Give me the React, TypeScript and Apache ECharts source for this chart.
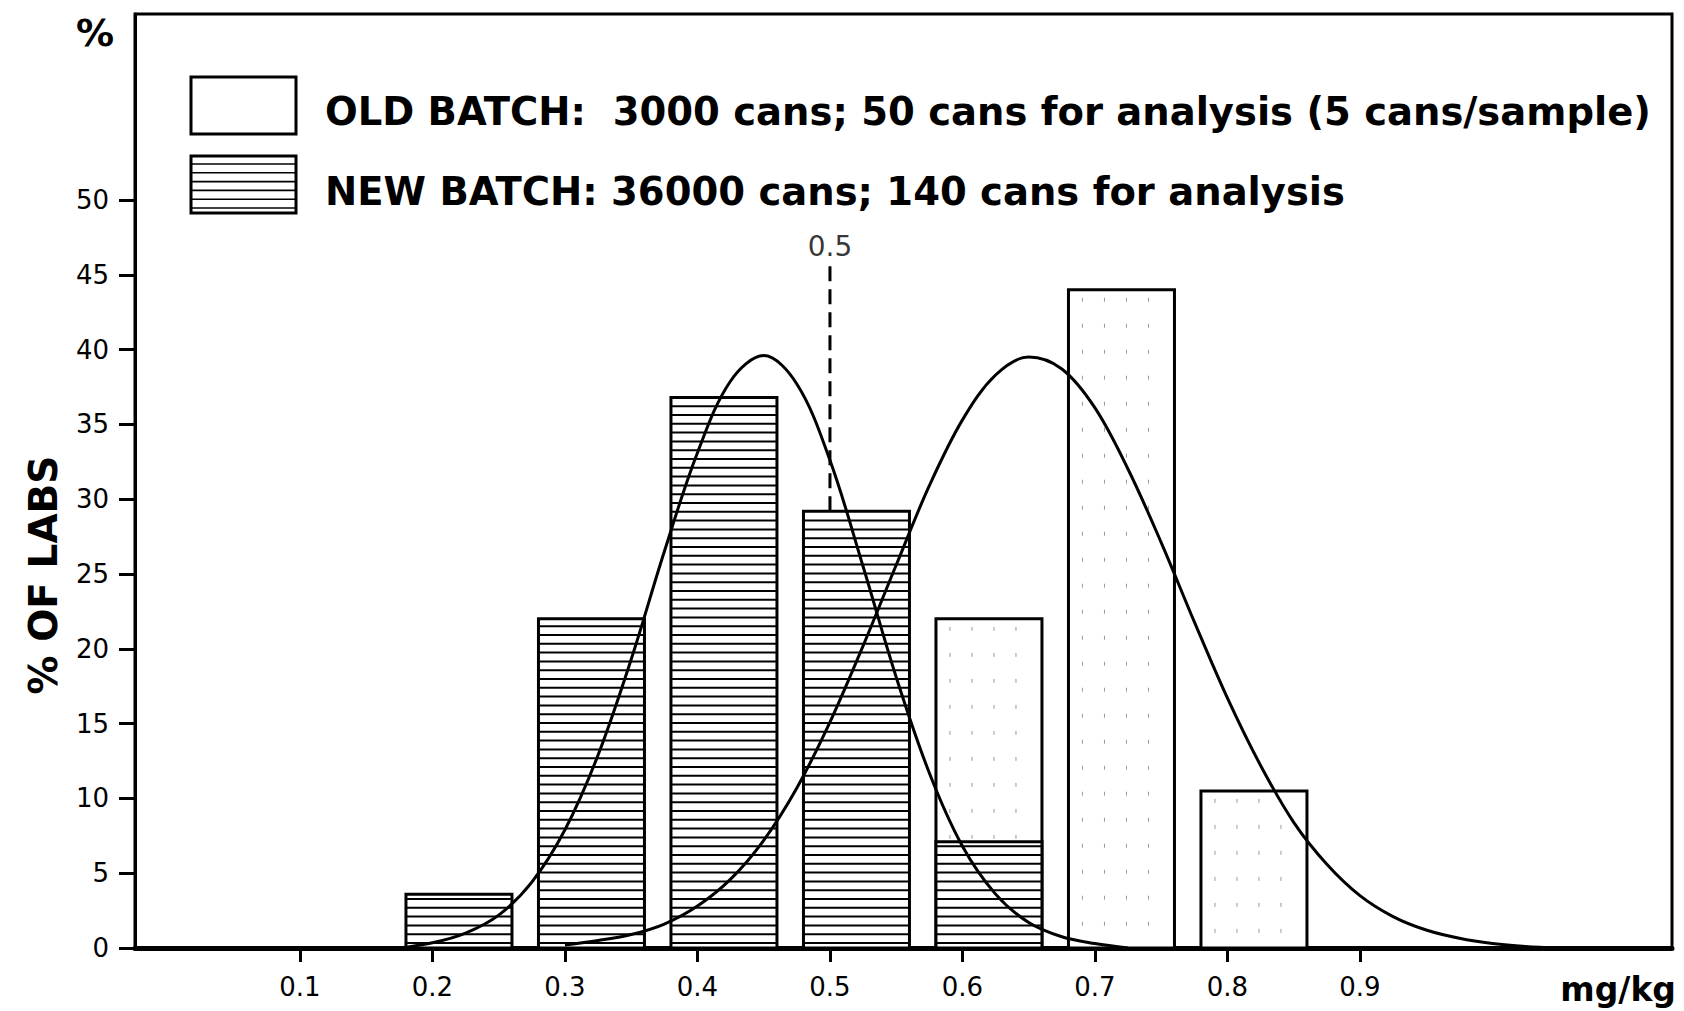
import React, { useEffect, useRef } from "react";
import * as echarts from "echarts";

// ---- data ----
const legendLabels = [
  "OLD BATCH:  3000 cans; 50 cans for analysis (5 cans/sample)",
  "NEW BATCH: 36000 cans; 140 cans for analysis",
];
const binStarts = [0.18, 0.28, 0.38, 0.48, 0.58, 0.68, 0.78];
const binEnds = [0.26, 0.36, 0.46, 0.56, 0.66, 0.76, 0.86];
const oldBatchPct = [0, 0, 0, 0, 22, 44, 10.5];
const newBatchPct = [3.6, 22, 36.8, 29.2, 7.1, 0, 0];

const newCurveX = [0.175, 0.2, 0.225, 0.25, 0.275, 0.3, 0.325, 0.35, 0.375, 0.4, 0.425, 0.45, 0.475, 0.5, 0.525, 0.55, 0.575, 0.6, 0.625, 0.65, 0.675, 0.7, 0.725];
const newCurveY = [0, 0.35, 1.0, 2.2, 4.4, 7.9, 12.9, 19.3, 26.5, 33.1, 37.9, 39.6, 37.7, 32.6, 25.5, 18.1, 11.7, 6.8, 3.6, 1.7, 0.75, 0.3, 0];

const oldCurveX = [0.3, 0.325, 0.35, 0.375, 0.4, 0.425, 0.45, 0.475, 0.5, 0.525, 0.55, 0.575, 0.6, 0.625, 0.65, 0.675, 0.7, 0.725, 0.75, 0.775, 0.8, 0.825, 0.85, 0.875, 0.9, 0.925, 0.95, 0.975, 1.0, 1.025, 1.05];
const oldCurveY = [0.2, 0.5, 0.9, 1.6, 2.8, 4.6, 7.2, 10.7, 15.1, 20.2, 25.6, 30.9, 35.3, 38.3, 39.5, 38.7, 36.1, 32.0, 27.1, 21.8, 16.7, 12.2, 8.4, 5.6, 3.5, 2.1, 1.2, 0.65, 0.3, 0.1, 0];

const xTickValues = [0.1, 0.2, 0.3, 0.4, 0.5, 0.6, 0.7, 0.8, 0.9];
const yTickValues = [0, 5, 10, 15, 20, 25, 30, 35, 40, 45, 50];

const refLineX = [0.5, 0.5];
const refLineY = [29.2, 45.8];
const refLabel = "0.5";

const yAxisTitle = "% OF LABS";
const yUnit = "%";
const xUnit = "mg/kg";

const FONT = '"DejaVu Sans", "Liberation Sans", Arial, sans-serif';

function barRenderer(kind: "old" | "new") {
  return (params: any, api: any) => {
    const x0 = api.value(0);
    const x1 = api.value(1);
    const v = api.value(2);
    const tl = api.coord([x0, v]);
    const br = api.coord([x1, 0]);
    const x = tl[0];
    const y = tl[1];
    const w = br[0] - tl[0];
    const h = br[1] - tl[1];
    const children: any[] = [
      { type: "rect", shape: { x, y, width: w, height: h }, style: { fill: "#fff" } },
    ];
    if (kind === "new") {
      for (let yy = br[1] - 5; yy > y + 3; yy -= 8.8) {
        children.push({
          type: "line",
          shape: { x1: x, y1: yy, x2: x + w, y2: yy },
          style: { stroke: "#000", lineWidth: 2 },
        });
      }
    } else {
      for (let xx = x + 14; xx < x + w - 6; xx += 22) {
        children.push({
          type: "line",
          shape: { x1: xx, y1: y + 8, x2: xx, y2: br[1] - 4 },
          style: { stroke: "#999", lineWidth: 1, lineDash: [4, 22] },
        });
      }
    }
    children.push({
      type: "rect",
      shape: { x, y, width: w, height: h },
      style: { fill: "none", stroke: "#000", lineWidth: 3 },
    });
    return { type: "group", children };
  };
}

function legendHatch(x: number, y: number, w: number, h: number) {
  const lines: any[] = [];
  for (let yy = y + h - 5; yy > y + 3; yy -= 8.8) {
    lines.push({
      type: "line",
      shape: { x1: x, y1: yy, x2: x + w, y2: yy },
      style: { stroke: "#000", lineWidth: 1.6 },
    });
  }
  return lines;
}

export default function App() {
  const ref = useRef<HTMLDivElement>(null);
  useEffect(() => {
    document.body.style.margin = "0";
    const chart = echarts.init(ref.current!, null, { renderer: "svg" });

    const oldData = binStarts
      .map((s, i) => [s, binEnds[i], oldBatchPct[i]])
      .filter((d) => d[2] > 0);
    const newData = binStarts
      .map((s, i) => [s, binEnds[i], newBatchPct[i]])
      .filter((d) => d[2] > 0);

    chart.setOption({
      animation: false,
      backgroundColor: "#fff",
      grid: {
        left: 135,
        right: 12,
        top: 14,
        bottom: 63,
        show: true,
        borderColor: "#000",
        borderWidth: 3,
      },
      xAxis: {
        type: "value",
        min: -0.0245,
        max: 1.1355,
        splitLine: { show: false },
        axisLine: { onZero: false, lineStyle: { color: "#000", width: 5 } },
        axisTick: {
          customValues: xTickValues,
          length: 14,
          lineStyle: { color: "#000", width: 3 },
        },
        axisLabel: {
          customValues: xTickValues,
          formatter: (v: number) => v.toFixed(1),
          color: "#000",
          fontSize: 26,
          fontFamily: FONT,
          margin: 26,
        },
      },
      yAxis: {
        type: "value",
        min: 0,
        max: 62.43,
        splitLine: { show: false },
        axisLine: { show: true, onZero: false, lineStyle: { color: "#000", width: 3 } },
        axisTick: {
          show: true,
          customValues: yTickValues,
          length: 16,
          lineStyle: { color: "#000", width: 3 },
        },
        axisLabel: {
          customValues: yTickValues,
          color: "#000",
          fontSize: 26,
          fontFamily: FONT,
          margin: 26,
        },
      },
      series: [
        {
          type: "custom",
          name: legendLabels[0],
          renderItem: barRenderer("old"),
          encode: { x: [0, 1], y: 2 },
          data: oldData,
          z: 2,
        },
        {
          type: "custom",
          name: legendLabels[1],
          renderItem: barRenderer("new"),
          encode: { x: [0, 1], y: 2 },
          data: newData,
          z: 3,
        },
        {
          type: "line",
          data: newCurveX.map((x, i) => [x, newCurveY[i]]),
          smooth: 0.35,
          symbol: "none",
          lineStyle: { color: "#000", width: 3 },
          z: 5,
        },
        {
          type: "line",
          data: oldCurveX.map((x, i) => [x, oldCurveY[i]]),
          smooth: 0.35,
          symbol: "none",
          lineStyle: { color: "#000", width: 3 },
          z: 5,
        },
        {
          type: "line",
          data: refLineX.map((x, i) => [x, refLineY[i]]),
          symbol: "none",
          lineStyle: { color: "#000", width: 3, type: [15, 8] },
          z: 4,
        },
        {
          type: "scatter",
          data: [[refLineX[1], refLineY[1]]],
          symbolSize: 1,
          itemStyle: { color: "rgba(0,0,0,0)" },
          label: {
            show: true,
            position: "top",
            distance: 2,
            formatter: refLabel,
            color: "#000",
            fontSize: 28,
            fontFamily: FONT,
          },
          z: 6,
        },
      ],
      graphic: [
        {
          type: "rect",
          shape: { x: 191, y: 77, width: 105, height: 57 },
          style: { fill: "#fff", stroke: "#000", lineWidth: 3 },
        },
        {
          type: "group",
          children: [
            {
              type: "rect",
              shape: { x: 191, y: 156, width: 105, height: 57 },
              style: { fill: "#fff" },
            },
            ...legendHatch(191, 156, 105, 57),
            {
              type: "rect",
              shape: { x: 191, y: 156, width: 105, height: 57 },
              style: { fill: "none", stroke: "#000", lineWidth: 3 },
            },
          ],
        },
        {
          type: "text",
          x: 325,
          y: 111,
          style: {
            text: legendLabels[0],
            fill: "#000",
            fontSize: 38.5,
            fontWeight: "bold",
            fontFamily: FONT,
            verticalAlign: "middle",
          },
        },
        {
          type: "text",
          x: 325,
          y: 191,
          style: {
            text: legendLabels[1],
            fill: "#000",
            fontSize: 38.5,
            fontWeight: "bold",
            fontFamily: FONT,
            verticalAlign: "middle",
          },
        },
        {
          type: "text",
          x: 95,
          y: 33,
          style: {
            text: yUnit,
            fill: "#000",
            fontSize: 38,
            fontWeight: "bold",
            fontFamily: FONT,
            align: "center",
            verticalAlign: "middle",
          },
        },
        {
          type: "text",
          x: 43,
          y: 575,
          rotation: Math.PI / 2,
          style: {
            text: yAxisTitle,
            fill: "#000",
            fontSize: 39,
            fontWeight: "bold",
            fontFamily: FONT,
            align: "center",
            verticalAlign: "middle",
          },
        },
        {
          type: "text",
          x: 1676,
          y: 989,
          style: {
            text: xUnit,
            fill: "#000",
            fontSize: 33,
            fontWeight: "bold",
            fontFamily: FONT,
            align: "right",
            verticalAlign: "middle",
          },
        },
      ],
    });
    return () => chart.dispose();
  }, []);
  return <div ref={ref} style={{ width: 1684, height: 1011 }} />;
}
